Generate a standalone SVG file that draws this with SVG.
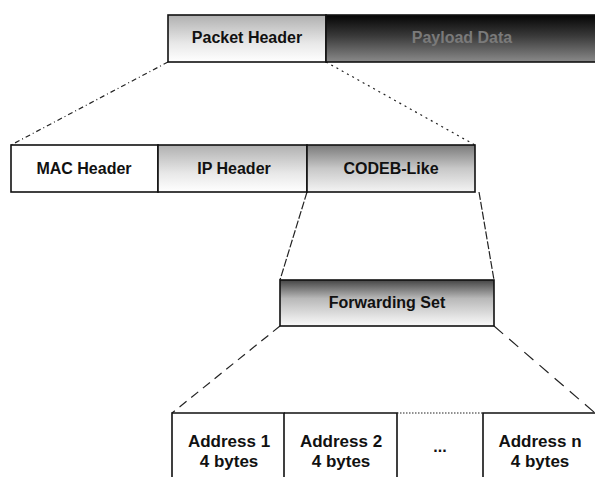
<svg xmlns="http://www.w3.org/2000/svg" width="595" height="477" viewBox="0 0 595 477">
<style>
.box{stroke:#111;stroke-width:1.6}
.t{font-family:"Liberation Sans",Arial,sans-serif;font-size:16px;font-weight:bold;fill:#111;text-anchor:middle}
.a{font-size:17px}
.c{fill:none;stroke:#222;stroke-width:1.2}
</style>
<defs>
<linearGradient id="gLight" x1="0" y1="0" x2="0" y2="1"><stop offset="0" stop-color="#b0b0b0"/><stop offset="0.6" stop-color="#e8e8e8"/><stop offset="1" stop-color="#fff"/></linearGradient>
<linearGradient id="gMid" x1="0" y1="0" x2="0" y2="1"><stop offset="0" stop-color="#7a7a7a"/><stop offset="0.5" stop-color="#c8c8c8"/><stop offset="1" stop-color="#f4f4f4"/></linearGradient>
<linearGradient id="gDark" x1="0" y1="0" x2="0" y2="1"><stop offset="0" stop-color="#050505"/><stop offset="0.45" stop-color="#3a3a3a"/><stop offset="1" stop-color="#8a8a8a"/></linearGradient>
<linearGradient id="gFwd" x1="0" y1="0" x2="0" y2="1"><stop offset="0" stop-color="#454545"/><stop offset="0.4" stop-color="#b8b8b8"/><stop offset="1" stop-color="#fafafa"/></linearGradient>
</defs>
<g id="connectors">
<path class="c" d="M168 62 L11 145" stroke-dasharray="5 3 1 3"/>
<path class="c" d="M326 62 L475 145" stroke-dasharray="2 4"/>
<path class="c" d="M307 192 L280 280" stroke-width="0.9" stroke-dasharray="8 2"/>
<path class="c" d="M479 192 L494 280" stroke-width="0.9" stroke-dasharray="8 2"/>
<path class="c" d="M280 326 L172 413" stroke-dasharray="9 6"/>
<path class="c" d="M494 326 L595 413" stroke-dasharray="12 8"/>
</g>
<g id="packet-header">
<rect class="box" x="168" y="15" width="158" height="47" fill="url(#gLight)"/>
<text class="t" x="247" y="43">Packet Header</text>
</g>
<g id="payload-data">
<rect class="box" x="326" y="15" width="275" height="47" fill="url(#gDark)"/>
<text class="t" x="462" y="43" style="fill:#7a7a7a">Payload Data</text>
</g>
<g id="mac-header">
<rect class="box" x="11" y="145" width="147" height="47" fill="#fff"/>
<text class="t" x="84" y="174">MAC Header</text>
</g>
<g id="ip-header">
<rect class="box" x="158" y="145" width="149" height="47" fill="url(#gLight)"/>
<text class="t" x="234" y="174">IP Header</text>
</g>
<g id="codeb-like">
<rect class="box" x="307" y="145" width="168" height="47" fill="url(#gMid)"/>
<text class="t" x="391" y="174">CODEB-Like</text>
</g>
<g id="forwarding-set">
<rect class="box" x="280" y="280" width="214" height="46" fill="url(#gFwd)"/>
<text class="t" x="387" y="308">Forwarding Set</text>
</g>
<g id="address-1">
<path class="box" d="M172 480 V413 H284 V480" fill="#fff"/>
<text class="t a" x="229" y="447">Address 1</text>
<text class="t a" x="229" y="467">4 bytes</text>
</g>
<g id="address-2">
<path class="box" d="M284 413 H397 V480" fill="none"/>
<text class="t a" x="341" y="447">Address 2</text>
<text class="t a" x="341" y="467">4 bytes</text>
</g>
<g id="ellipsis">
<path d="M397 413 H483" stroke="#222" stroke-width="1.2" stroke-dasharray="1.5 1.5" fill="none"/>
<text class="t" x="440" y="452">...</text>
</g>
<g id="address-n">
<path class="box" d="M483 480 V413 H597" fill="none"/>
<text class="t a" x="540" y="447">Address n</text>
<text class="t a" x="540" y="467">4 bytes</text>
</g>
</svg>
